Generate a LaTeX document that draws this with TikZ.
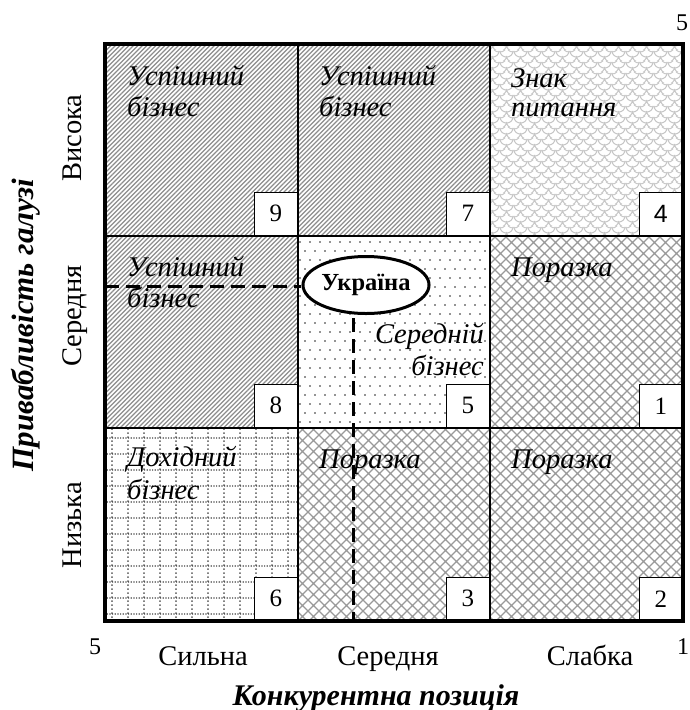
\documentclass[tikz,border=0pt]{standalone}
\usepackage{fontspec}
\setmainfont{Liberation Serif}
\newfontfamily\digitsans{Liberation Sans}
\usetikzlibrary{patterns,shapes.geometric}

% dense diagonal hatching
\pgfdeclarepatternformonly{hatchne}{\pgfqpoint{-1pt}{-1pt}}{\pgfqpoint{5.5pt}{5.5pt}}{\pgfqpoint{4.5pt}{4.5pt}}{%
  \pgfsetlinewidth{1.1pt}%
  \pgfpathmoveto{\pgfqpoint{0pt}{0pt}}%
  \pgfpathlineto{\pgfqpoint{4.6pt}{4.6pt}}%
  \pgfusepath{stroke}}

% diagonal cross hatching
\pgfdeclarepatternformonly{xhatch}{\pgfqpoint{-1pt}{-1pt}}{\pgfqpoint{12pt}{12pt}}{\pgfqpoint{11pt}{11pt}}{%
  \pgfsetlinewidth{1.2pt}%
  \pgfpathmoveto{\pgfqpoint{0pt}{0pt}}\pgfpathlineto{\pgfqpoint{11.1pt}{11.1pt}}%
  \pgfpathmoveto{\pgfqpoint{0pt}{11pt}}\pgfpathlineto{\pgfqpoint{11.1pt}{-0.1pt}}%
  \pgfusepath{stroke}}

% sparse staggered dots
\pgfdeclarepatternformonly{sparsedots}{\pgfqpoint{-1pt}{-1pt}}{\pgfqpoint{11pt}{19pt}}{\pgfqpoint{10pt}{18pt}}{%
  \pgfpathcircle{\pgfqpoint{0pt}{0pt}}{0.85pt}%
  \pgfpathcircle{\pgfqpoint{5pt}{9pt}}{0.85pt}%
  \pgfusepath{fill}}

% dotted square grid
\pgfdeclarepatternformonly{dotgrid}{\pgfqpoint{-1pt}{-1pt}}{\pgfqpoint{17pt}{17pt}}{\pgfqpoint{16pt}{16pt}}{%
  \foreach \d in {0,2.67,5.33,8,10.67,13.33}{%
    \pgfpathrectangle{\pgfpoint{\d pt}{-0.6pt}}{\pgfqpoint{1.2pt}{1.2pt}}}%
  \foreach \d in {0,4,8,12}{%
    \pgfpathrectangle{\pgfpoint{-0.7pt}{\d pt}}{\pgfqpoint{1.4pt}{1.6pt}}}%
  \pgfusepath{fill}}

% fish-scale arcs
\pgfdeclarepatternformonly{scales}{\pgfqpoint{0pt}{0pt}}{\pgfqpoint{13.5pt}{11pt}}{\pgfqpoint{13.5pt}{11pt}}{%
  \pgfsetlinewidth{1.1pt}%
  \pgfpathmoveto{\pgfqpoint{0pt}{11pt}}\pgfpatharc{180}{360}{6.75pt}%
  \pgfpathmoveto{\pgfqpoint{-6.75pt}{5.5pt}}\pgfpatharc{180}{360}{6.75pt}%
  \pgfpathmoveto{\pgfqpoint{6.75pt}{5.5pt}}\pgfpatharc{180}{360}{6.75pt}%
  \pgfpathmoveto{\pgfqpoint{-6.75pt}{16.5pt}}\pgfpatharc{180}{360}{6.75pt}%
  \pgfpathmoveto{\pgfqpoint{6.75pt}{16.5pt}}\pgfpatharc{180}{360}{6.75pt}%
  \pgfusepath{stroke}}

\tikzset{
  celltext/.style={anchor=base west, inner sep=0pt, font=\fontsize{28.5}{32}\selectfont\itshape},
  numbox/.style={draw, line width=1.5pt, fill=white, anchor=south east,
    minimum width=43pt, minimum height=43pt, inner sep=0pt,
    font=\fontsize{25}{28}\selectfont},
  axislabel/.style={anchor=base, inner sep=0pt, font=\fontsize{28.5}{32}\selectfont},
  axistitle/.style={anchor=base, inner sep=0pt, font=\fontsize{30}{34}\selectfont\bfseries\itshape},
  cornernum/.style={inner sep=0pt, font=\fontsize{24}{28}\selectfont},
  thickdash/.style={line width=3pt, dash pattern=on 14pt off 7pt},
}

\begin{document}
\begin{tikzpicture}[x=1pt,y=-1pt]
\useasboundingbox (0,0) rectangle (690,710);

% cell fillings
\fill[pattern=hatchne, pattern color=black!45] (105,44) rectangle (298,236);
\fill[pattern=hatchne, pattern color=black!45] (298,44) rectangle (490,236);
\fill[pattern=scales, pattern color=black!22] (490,44) rectangle (683,236);
\fill[pattern=hatchne, pattern color=black!45] (105,236) rectangle (298,428);
\fill[pattern=sparsedots, pattern color=black!85] (298,236) rectangle (490,428);
\fill[pattern=xhatch, pattern color=black!40] (490,236) rectangle (683,428);
\fill[pattern=dotgrid, pattern color=black!75] (105,428) rectangle (298,621);
\fill[pattern=xhatch, pattern color=black!40] (298,428) rectangle (490,621);
\fill[pattern=xhatch, pattern color=black!40] (490,428) rectangle (683,621);

% numbered corner boxes
\node[numbox] (n9) at (298,236) {9};
\node[numbox] (n7) at (490,236) {7};
\node[numbox] (n4) at (683,236) {\digitsans 4};
\node[numbox] (n8) at (298,428) {8};
\node[numbox] (n5) at (490,428) {5};
\node[numbox] (n1) at (683,428) {1};
\node[numbox] (n6) at (298,621) {6};
\node[numbox] (n3) at (490,621) {3};
\node[numbox] (n2) at (683,621) {2};

% grid lines
\draw[line width=2.2pt] (298,44) -- (298,621);
\draw[line width=2.2pt] (490,44) -- (490,621);
\draw[line width=2.2pt] (105,236) -- (683,236);
\draw[line width=2.2pt] (105,428) -- (683,428);
\draw[line width=4pt] (105,44) rectangle (683,621);

% position marker
\node[draw, ellipse, line width=3pt, fill=white, minimum width=121pt, minimum height=57pt,
      inner sep=0pt, font=\fontsize{24.5}{28}\selectfont\bfseries] (ua) at (366,285) {\raisebox{-4pt}{Україна}};
\coordinate (hstart) at (105,286);
\coordinate (vtop) at (353,318);
\coordinate (vbot) at (353,621);
\draw[thickdash] (hstart) -- (ua.west |- hstart);
\draw[thickdash] (vtop) -- (vbot);

% cell captions
\node[celltext] (t9a) at (127,85) {Успішний};
\node[celltext] (t9b) at (127,116) {бізнес};
\node[celltext] (t7a) at (319,85) {Успішний};
\node[celltext] (t7b) at (319,116) {бізнес};
\node[celltext] (t4a) at (511,87) {Знак};
\node[celltext] (t4b) at (511,116) {питання};
\node[celltext] (t8a) at (127,276) {Успішний};
\node[celltext] (t8b) at (127,307) {бізнес};
\node[celltext, anchor=base east] (t5a) at (484,343) {Середній};
\node[celltext, anchor=base east] (t5b) at (484,375) {бізнес};
\node[celltext] (t1) at (511,276) {Поразка};
\node[celltext] (t6a) at (127,466) {Дохідний};
\node[celltext] (t6b) at (127,499) {бізнес};
\node[celltext] (t3) at (319,468) {Поразка};
\node[celltext] (t2) at (511,468) {Поразка};

% axis labels
\node[axislabel, rotate=90] (yhi) at (81,138) {Висока};
\node[axislabel, rotate=90] (ymid) at (81,316) {Середня};
\node[axislabel, rotate=90] (ylo) at (81,525) {Низька};
\node[axislabel] (xs) at (203,665) {Сильна};
\node[axislabel] (xm) at (388,665) {Середня};
\node[axislabel] (xw) at (590,665) {Слабка};
\node[axistitle, rotate=90, font=\fontsize{31}{35}\selectfont\bfseries\itshape] (ytitle) at (33,325) {Привабливість галузі};
\node[axistitle] (xtitle) at (376,705) {Конкурентна позиція};

% scale end values
\node[cornernum] (c5a) at (682,23) {5};
\node[cornernum] (c5b) at (95,647) {5};
\node[cornernum] (c1) at (683,647) {1};
\end{tikzpicture}
\end{document}
